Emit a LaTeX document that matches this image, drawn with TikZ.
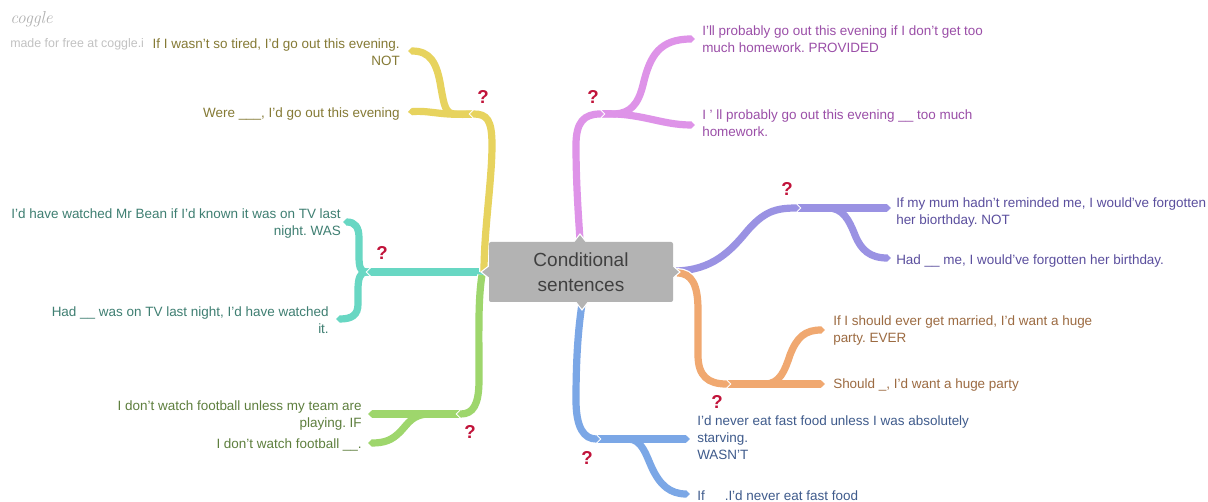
\documentclass[tikz,border=0pt]{standalone}
\usepackage{fontspec}
\setmainfont{Liberation Sans}
\newfontfamily\logofont{Latin Modern Roman}
\usetikzlibrary{arrows.meta}
\frenchspacing

% branch colours
\definecolor{ylw}{HTML}{E7D35E}
\definecolor{pnk}{HTML}{DE93E8}
\definecolor{tea}{HTML}{68D7C3}
\definecolor{grn}{HTML}{9ED66C}
\definecolor{pur}{HTML}{9A92E3}
\definecolor{org}{HTML}{F0A870}
\definecolor{blu}{HTML}{7BA7E6}
% label colours
\definecolor{ytx}{HTML}{857A35}
\definecolor{ptx}{HTML}{9B4FA8}
\definecolor{ttx}{HTML}{3F7F72}
\definecolor{gtx}{HTML}{5E7F3E}
\definecolor{utx}{HTML}{5B4F9E}
\definecolor{otx}{HTML}{9C6B42}
\definecolor{btx}{HTML}{3F5B8C}
\definecolor{qred}{HTML}{C1133A}
\definecolor{hubfill}{HTML}{B3B3B3}
\definecolor{hubtext}{HTML}{404040}

\tikzset{
  lbl/.style={inner sep=0pt, font=\fontsize{10.1}{12.75}\selectfont},
  lblL/.style={lbl, anchor=north east, align=right},
  lblR/.style={lbl, anchor=north west, align=left},
  twig/.style={line width=5.4pt, draw=#1, -{Triangle[length=3pt,width=5.4pt]}},
  halo/.style={line width=7.3pt, draw=white, shorten >=-1.1pt, -{Triangle[length=4pt,width=7.5pt]}},
  trunk/.style={line width=5.4pt, draw=#1, -{Triangle[length=3pt,width=5.4pt]}},
  quest/.style={text=qred, font=\bfseries\fontsize{14}{14}\selectfont, inner sep=0pt},
  hub/.style={fill=hubfill, text=hubtext, rounded corners=1.5pt, align=center,
    minimum width=138pt, minimum height=45pt, inner sep=0pt,
    font=\fontsize{14.25}{18.75}\selectfont},
  pointer/.style={fill=hubfill, draw=white, line width=0.8pt, line join=miter},
}
% a main branch: white cut first, then the coloured stroke
\newcommand\trunkdraw[2]{\draw[halo] #2; \draw[trunk=#1] #2;}

\begin{document}
\begin{tikzpicture}[x=0.75pt, y=-0.75pt]
\fill[white] (0,0) rectangle (1208,502);
\useasboundingbox (0,0) rectangle (1208,502);

% hub anchor points and junctions
\coordinate (hL) at (484,272);
\coordinate (hT) at (580,240);
\coordinate (hB) at (582,304);
\coordinate (hR) at (676,271);

\coordinate (jY) at (470,114);  \coordinate (jY0) at (475,114);
\coordinate (jT) at (367,272);  \coordinate (jT0) at (372,272);
\coordinate (jG) at (457,414);  \coordinate (jG0) at (462,414);
\coordinate (jP) at (604,114);  \coordinate (jP0) at (599,114);
\coordinate (jU) at (800,208);  \coordinate (jU0) at (795,208);
\coordinate (jO) at (730,384);  \coordinate (jO0) at (725,384);
\coordinate (jB) at (600,439);  \coordinate (jB0) at (595,439);

% leaf ends
\coordinate (yEa) at (408,112); \coordinate (yEb) at (408,51);
\coordinate (tEa) at (343,222); \coordinate (tEb) at (336,319);
\coordinate (gEa) at (368,414); \coordinate (gEb) at (368,443);
\coordinate (pEa) at (695,39);  \coordinate (pEb) at (695,125);
\coordinate (uEa) at (891,208); \coordinate (uEb) at (891,258);
\coordinate (oEa) at (825,384); \coordinate (oEb) at (825,330);
\coordinate (bEa) at (690,439); \coordinate (bEb) at (690,494);

% ---- leaf twigs ----
\draw[twig=ylw] (jY0) .. controls (440,116) and (430,110) .. (yEa);
\draw[twig=ylw] (jY0) -- (455,114) .. controls (445,114) and (444,104) .. (441,88)
   .. controls (437,62) and (430,51) .. (yEb);

\draw[twig=tea] (jT0) -- (366,272) .. controls (360,272) and (359,266) .. (359,256)
   -- (359,238) .. controls (359,227) and (355,222) .. (tEa);
\draw[twig=tea] (jT0) -- (366,272) .. controls (360,272) and (358,279) .. (358,290)
   -- (358,304) .. controls (358,315) and (352,319) .. (tEb);

\draw[twig=grn] (jG0) -- (gEa);
\draw[twig=grn] (jG0) -- (430,414) .. controls (412,414) and (408,424) .. (400,432)
   .. controls (392,440) and (385,443) .. (gEb);

\draw[twig=pnk] (jP0) -- (615,114) .. controls (630,113) and (638,105) .. (643,85)
   .. controls (650,55) and (660,39) .. (pEa);
\draw[twig=pnk] (jP0) .. controls (640,112) and (660,125) .. (pEb);

\draw[twig=pur] (jU0) -- (uEa);
\draw[twig=pur] (jU0) -- (828,208) .. controls (843,208) and (849,220) .. (855,235)
   .. controls (861,250) and (870,258) .. (uEb);

\draw[twig=org] (jO0) -- (oEa);
\draw[twig=org] (jO0) -- (765,384) .. controls (780,384) and (785,370) .. (790,355)
   .. controls (797,337) and (805,330) .. (oEb);

\draw[twig=blu] (jB0) -- (bEa);
\draw[twig=blu] (jB0) -- (628,439) .. controls (642,439) and (646,455) .. (652,468)
   .. controls (660,485) and (670,494) .. (bEb);

% ---- main branches from the hub ----
\trunkdraw{tea}{(hL) -- (jT)}
\trunkdraw{grn}{(482,275) .. controls (478,300) and (479,330) .. (479,380)
   .. controls (479,405) and (473,414) .. (jG)}
\trunkdraw{ylw}{(hL) .. controls (484,230) and (492,180) .. (492,145)
   .. controls (492,120) and (487,114) .. (jY)}
\trunkdraw{pnk}{(hT) .. controls (578,210) and (576,180) .. (576,145)
   .. controls (576,122) and (584,114) .. (jP)}
\trunkdraw{pur}{(hR) .. controls (712,270) and (730,252) .. (748,230)
   .. controls (764,212) and (775,208) .. (jU)}
\trunkdraw{org}{(677,273) .. controls (692,273) and (698,285) .. (698,310)
   -- (698,355) .. controls (698,376) and (708,384) .. (jO)}
\trunkdraw{blu}{(hB) .. controls (578,330) and (576,360) .. (576,400)
   .. controls (576,428) and (584,439) .. (jB)}

% ---- hub ----
\filldraw[pointer] (490,265) -- (481,272) -- (490,279) -- cycle;
\filldraw[pointer] (573,243) -- (580,234) -- (587,243) -- cycle;
\filldraw[pointer] (575,301) -- (582,310) -- (589,301) -- cycle;
\filldraw[pointer] (672,265) -- (680,272) -- (672,279) -- cycle;
\node[hub] (hub) at (581,272) {Conditional\\sentences};

% ---- question marks ----
\node[quest] (qY) at (483,97) {?};
\node[quest] (qP) at (593,97) {?};
\node[quest] (qT) at (382,253) {?};
\node[quest] (qU) at (787,189) {?};
\node[quest] (qO) at (717,402) {?};
\node[quest] (qG) at (470,432) {?};
\node[quest] (qB) at (587,458) {?};

% ---- watermark ----
\node[anchor=base west, inner sep=0pt, text=black!30,
  font=\logofont\itshape\fontsize{13}{13}\selectfont] (logo) at (10,24) {coggle};
\node[anchor=base west, inner sep=0pt, text=black!24,
  font=\fontsize{9.3}{9.3}\selectfont] (made) at (10,48) {made for free at coggle.i};

% ---- labels ----
\node[lblL, text=ytx] (yTa) at (400,38) {If I wasn't so tired, I'd go out this evening.\\NOT};
\node[lblL, text=ytx] (yTb) at (400,107) {Were \_\_\_, I'd go out this evening};

\node[lblR, text=ptx] (pTa) at (702,25) {I'll probably go out this evening if I don't get too\\much homework. PROVIDED};
\node[lblR, text=ptx] (pTb) at (702,109) {I ' ll probably go out this evening \_\_ too much\\homework.};

\node[lblL, text=ttx] (tTa) at (341,208) {I'd have watched Mr Bean if I'd known it was on TV last\\night. WAS};
\node[lblL, text=ttx] (tTb) at (329,306) {Had \_\_ was on TV last night, I'd have watched\\it.};

\node[lblR, text=utx] (uTa) at (896,197) {If my mum hadn't reminded me, I would've forgotten\\her biorthday. NOT};
\node[lblR, text=utx] (uTb) at (896,254) {Had \_\_ me, I would've forgotten her birthday.};

\node[lblR, text=otx] (oTa) at (833,315) {If I should ever get married, I'd want a huge\\party. EVER};
\node[lblR, text=otx] (oTb) at (833,378) {Should \_, I'd want a huge party};

\node[lblR, text=btx] (bTa) at (697,415) {I'd never eat fast food unless I was absolutely\\starving.\\WASN'T};
\node[lblR, text=btx] (bTb) at (697,490) {If\hspace{15pt}.I'd never eat fast food};

\node[lblL, text=gtx] (gTa) at (362,400) {I don't watch football unless my team are\\playing. IF};
\node[lblL, text=gtx] (gTb) at (362,438) {I don't watch football \_\_.};
\end{tikzpicture}
\end{document}
